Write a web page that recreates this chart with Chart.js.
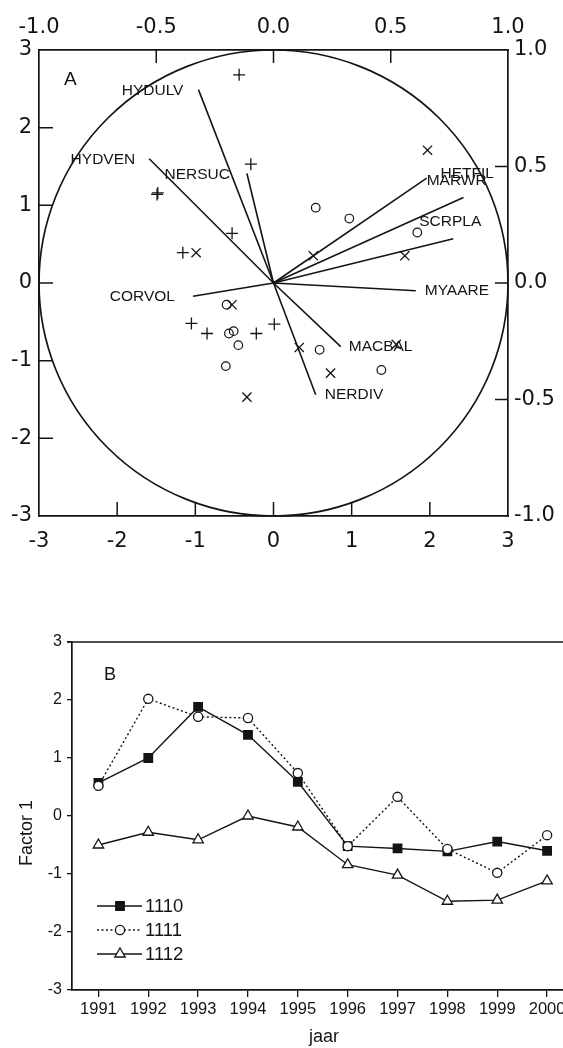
<!DOCTYPE html>
<html><head><meta charset="utf-8">
<script src="https://cdn.jsdelivr.net/npm/chart.js@4.4.1/dist/chart.umd.min.js"></script>
<style>
html,body{margin:0;padding:0;background:#fff;overflow:hidden;width:563px;height:1048px;}
#wrapA{position:absolute;left:0;top:0;width:563px;height:570px;}
#wrapB{position:absolute;left:0;top:570px;width:590px;height:478px;}
canvas{display:block;}
</style></head><body>
<div id="wrapA"><canvas id="chartA" width="563" height="570"></canvas></div>
<div id="wrapB"><canvas id="chartB" width="590" height="478"></canvas></div>
<script>
// ---------- Panel A: biplot data ----------
const plusX  = [-0.44, -0.29, -1.49, -1.48, -0.53, -1.16, -1.05, -0.85, -0.22, 0.01];
const plusY  = [ 2.68,  1.53,  1.14,  1.16,  0.64,  0.39, -0.52, -0.65, -0.65, -0.53];
const crossX = [ 1.97,  1.68,  0.51, -0.99, -0.53, -0.34,  0.33,  0.73,  1.57];
const crossY = [ 1.71,  0.35,  0.35,  0.39, -0.28, -1.47, -0.83, -1.16, -0.79];
const circX  = [ 0.54,  0.97,  1.84, -0.60, -0.57, -0.51, -0.45, -0.61,  0.59,  1.38];
const circY  = [ 0.97,  0.83,  0.65, -0.28, -0.65, -0.62, -0.80, -1.07, -0.86, -1.12];
const varNames = ['HYDULV','HYDVEN','NERSUC','CORVOL','HETFIL','MARWR','SCRPLA','MYAARE','MACBAL','NERDIV'];
const vecX = [-0.96, -1.59, -0.34, -1.03, 2.43, 1.96, 2.30, 1.82, 0.86, 0.54];
const vecY = [ 2.49,  1.60,  1.41, -0.17, 1.10, 1.35, 0.57, -0.10, -0.82, -1.44];
const circleRadius = 3;
const axisMainTicks = [-3, -2, -1, 0, 1, 2, 3];
const axisSecTicks = [-1.0, -0.5, 0.0, 0.5, 1.0];

// ---------- Panel B: time series ----------
const years = [1991, 1992, 1993, 1994, 1995, 1996, 1997, 1998, 1999, 2000];
const s1110 = [0.57, 1.00, 1.88, 1.40, 0.59, -0.52, -0.56, -0.61, -0.44, -0.60];
const s1111 = [0.52, 2.02, 1.71, 1.69, 0.74, -0.52, 0.33, -0.57, -0.98, -0.33];
const s1112 = [-0.50, -0.28, -0.41, 0.00, -0.19, -0.84, -1.02, -1.47, -1.45, -1.12];
const seriesNames = ['1110', '1111', '1112'];
const bTicks = [-3, -2, -1, 0, 1, 2, 3];

// ---------- styles ----------
const INK = '#141414';
const FONT = "'Liberation Sans', Arial, Helvetica, sans-serif";
const WIDE = "'DejaVu Sans', 'Liberation Sans', Arial, sans-serif";
const labelStyle = { // pixel offsets from vector tip, alignment
  HYDULV: {dx: -15, dy: 1, align: 'right'},
  HYDVEN: {dx: -14, dy: 1, align: 'right'},
  NERSUC: {dx: -17, dy: 1, align: 'right'},
  CORVOL: {dx: -18, dy: 1, align: 'right'},
  HETFIL: {dx: -23, dy: -24, align: 'left'},
  MARWR:  {dx: 0, dy: 3, align: 'left'},
  SCRPLA: {dx: -34, dy: -17, align: 'left'},
  MYAARE: {dx: 9, dy: 0, align: 'left'},
  MACBAL: {dx: 8, dy: 0, align: 'left'},
  NERDIV: {dx: 9, dy: 0, align: 'left'}
};

Chart.defaults.font.family = FONT;
Chart.defaults.color = INK;

const pts = (xs, ys) => xs.map((x, i) => ({x: x, y: ys[i]}));

const vectorSets = varNames.map((n, i) => ({
  label: n,
  data: [{x: 0, y: 0}, {x: vecX[i], y: vecY[i]}],
  showLine: true, borderColor: INK, borderWidth: 1.6, pointRadius: 0, order: 5
}));

const biplotPlugin = {
  id: 'biplot',
  afterDatasetsDraw(chart) {
    const ctx = chart.ctx, sx = chart.scales.x, sy = chart.scales.y;
    const sx2 = chart.scales.x2, sy2 = chart.scales.y2;
    const ca = chart.chartArea;
    ctx.save();
    // correlation circle
    const cx = sx.getPixelForValue(0), cy = sy.getPixelForValue(0);
    const rx = sx.getPixelForValue(circleRadius) - cx;
    const ry = cy - sy.getPixelForValue(circleRadius);
    ctx.strokeStyle = INK; ctx.lineWidth = 1.7;
    ctx.beginPath(); ctx.ellipse(cx, cy, rx, ry, 0, 0, Math.PI * 2); ctx.stroke();
    // inward tick marks
    ctx.lineWidth = 1.5;
    ctx.beginPath();
    axisMainTicks.slice(1, -1).forEach(v => {
      const px = sx.getPixelForValue(v);
      ctx.moveTo(px, ca.bottom); ctx.lineTo(px, ca.bottom - 14);
      const py = sy.getPixelForValue(v);
      ctx.moveTo(ca.left, py); ctx.lineTo(ca.left + 14, py);
    });
    axisSecTicks.slice(1, -1).forEach(v => {
      const px = sx2.getPixelForValue(v);
      ctx.moveTo(px, ca.top); ctx.lineTo(px, ca.top + 13);
      const py = sy2.getPixelForValue(v);
      ctx.moveTo(ca.right, py); ctx.lineTo(ca.right - 13, py);
    });
    ctx.stroke();
    // variable labels
    ctx.fillStyle = INK;
    ctx.font = '15.5px ' + FONT;
    ctx.textBaseline = 'middle';
    varNames.forEach((n, i) => {
      const st = labelStyle[n];
      ctx.textAlign = st.align;
      ctx.fillText(n, sx.getPixelForValue(vecX[i]) + st.dx, sy.getPixelForValue(vecY[i]) + st.dy);
    });
    ctx.font = '19px ' + FONT;
    ctx.textAlign = 'left';
    ctx.fillText('A', 64, 80);
    ctx.restore();
  }
};

const tickFont = {size: 21, family: WIDE};
new Chart(document.getElementById('chartA'), {
  type: 'scatter',
  data: {
    datasets: [
      {label: '+', data: pts(plusX, plusY), pointStyle: 'cross', pointRadius: 6, borderColor: INK, borderWidth: 1.3, order: 1},
      {label: 'x', data: pts(crossX, crossY), pointStyle: 'crossRot', pointRadius: 6.5, borderColor: INK, borderWidth: 1.3, order: 1},
      {label: 'o', data: pts(circX, circY), pointStyle: 'circle', pointRadius: 4.3, borderColor: INK, backgroundColor: 'rgba(255,255,255,0)', borderWidth: 1.2, order: 1},
      ...vectorSets
    ]
  },
  options: {
    responsive: false, animation: false, events: [],
    layout: {padding: 0},
    plugins: {legend: {display: false}, tooltip: {enabled: false}},
    scales: {
      x: {type: 'linear', position: 'bottom', min: -3, max: 3,
          afterBuildTicks: s => { s.ticks = axisMainTicks.map(v => ({value: v})); },
          ticks: {font: tickFont, color: INK, padding: 13, callback: v => String(v)},
          grid: {display: false, drawTicks: false}, border: {display: true, color: INK, width: 1.7},
          afterFit: s => { s.height = 54; }},
      x2: {type: 'linear', position: 'top', min: -1, max: 1,
          afterBuildTicks: s => { s.ticks = axisSecTicks.map(v => ({value: v})); },
          ticks: {font: tickFont, color: INK, padding: 10, callback: v => Number(v).toFixed(1)},
          grid: {display: false, drawTicks: false}, border: {display: true, color: INK, width: 1.7},
          afterFit: s => { s.height = 50; }},
      y: {type: 'linear', position: 'left', min: -3, max: 3,
          afterBuildTicks: s => { s.ticks = axisMainTicks.map(v => ({value: v})); },
          ticks: {font: tickFont, color: INK, padding: 7, callback: v => String(v)},
          grid: {display: false, drawTicks: false}, border: {display: true, color: INK, width: 1.7},
          afterFit: s => { s.width = 39; }},
      y2: {type: 'linear', position: 'right', min: -1, max: 1,
          afterBuildTicks: s => { s.ticks = axisSecTicks.map(v => ({value: v})); },
          ticks: {font: tickFont, color: INK, padding: 6, callback: v => Number(v).toFixed(1)},
          grid: {display: false, drawTicks: false}, border: {display: true, color: INK, width: 1.7},
          afterFit: s => { s.width = 55; }}
    }
  },
  plugins: [biplotPlugin]
});

// ---------- Panel B ----------
const seriesVals = [s1110, s1111, s1112];
const seriesStyle = [
  {pointStyle: 'rect', pointRadius: 6, backgroundColor: INK, borderDash: []},
  {pointStyle: 'circle', pointRadius: 4.6, backgroundColor: '#fff', borderDash: [2, 2.5]},
  {pointStyle: 'triangle', pointRadius: 6, backgroundColor: '#fff', borderDash: []}
];
const bSets = seriesNames.map((n, i) => ({
  label: n,
  data: years.map((y, j) => ({x: y, y: seriesVals[i][j]})),
  showLine: true,
  borderColor: INK, borderWidth: 1.4, borderDash: seriesStyle[i].borderDash,
  pointStyle: seriesStyle[i].pointStyle, pointRadius: seriesStyle[i].pointRadius,
  pointBackgroundColor: seriesStyle[i].backgroundColor, pointBorderColor: INK, pointBorderWidth: 1.3,
  tension: 0, order: 3 - i
}));

const panelBPlugin = {
  id: 'panelB',
  afterDraw(chart) {
    const ctx = chart.ctx, ca = chart.chartArea;
    ctx.save();
    ctx.strokeStyle = INK; ctx.lineWidth = 1.7;
    ctx.beginPath(); ctx.moveTo(ca.left - 5, ca.top); ctx.lineTo(chart.width, ca.top); ctx.stroke();
    ctx.fillStyle = INK;
    ctx.font = '18px ' + FONT; ctx.textBaseline = 'middle'; ctx.textAlign = 'left';
    ctx.fillText('B', 104, 105);
    // legend
    const ly = [336, 360, 384];
    chart.data.datasets.forEach((ds, i) => {
      ctx.save();
      ctx.strokeStyle = INK; ctx.lineWidth = 1.4;
      ctx.setLineDash(ds.borderDash || []);
      ctx.beginPath(); ctx.moveTo(97, ly[i]); ctx.lineTo(142, ly[i]); ctx.stroke();
      ctx.setLineDash([]);
      ctx.fillStyle = ds.pointBackgroundColor; ctx.strokeStyle = INK; ctx.lineWidth = 1.3;
      Chart.helpers.drawPoint(ctx, {pointStyle: ds.pointStyle, radius: ds.pointRadius, rotation: 0, borderWidth: 1.3}, 120, ly[i]);
      ctx.restore();
      ctx.fillStyle = INK; ctx.font = '18.5px ' + FONT; ctx.textAlign = 'left'; ctx.textBaseline = 'middle';
      ctx.fillText(ds.label, 145, ly[i] + 1);
    });
    // y-axis title
    ctx.save();
    ctx.translate(27, 263); ctx.rotate(-Math.PI / 2);
    ctx.font = '18px ' + FONT; ctx.textAlign = 'center'; ctx.textBaseline = 'middle';
    ctx.fillText('Factor 1', 0, 0);
    ctx.restore();
    ctx.restore();
  }
};

new Chart(document.getElementById('chartB'), {
  type: 'scatter',
  data: {datasets: bSets},
  options: {
    responsive: false, animation: false, events: [],
    layout: {padding: {top: 72, right: 14, left: 0, bottom: 0}},
    plugins: {legend: {display: false}, tooltip: {enabled: false}},
    scales: {
      x: {type: 'linear', position: 'bottom', min: 1990.47, max: 2000.58,
          afterBuildTicks: s => { s.ticks = years.map(v => ({value: v})); },
          ticks: {font: {size: 16.5, family: FONT}, color: INK, padding: 3, callback: v => String(v)},
          grid: {display: true, drawOnChartArea: false, drawTicks: true, tickLength: 7, color: INK, lineWidth: 1.3},
          border: {display: true, color: INK, width: 1.7},
          title: {display: true, text: 'jaar', font: {size: 18, family: FONT}, color: INK, padding: 0},
          afterFit: s => { s.height = 58; }},
      y: {type: 'linear', position: 'left', min: -3, max: 3,
          afterBuildTicks: s => { s.ticks = bTicks.map(v => ({value: v})); },
          ticks: {font: {size: 16, family: FONT}, color: INK, padding: 5, callback: v => String(v)},
          grid: {display: true, drawOnChartArea: false, drawTicks: true, tickLength: 5, color: INK, lineWidth: 1.3},
          border: {display: true, color: INK, width: 1.7},
          afterFit: s => { s.width = 72; }}
    }
  },
  plugins: [panelBPlugin]
});
</script>
</body></html>
